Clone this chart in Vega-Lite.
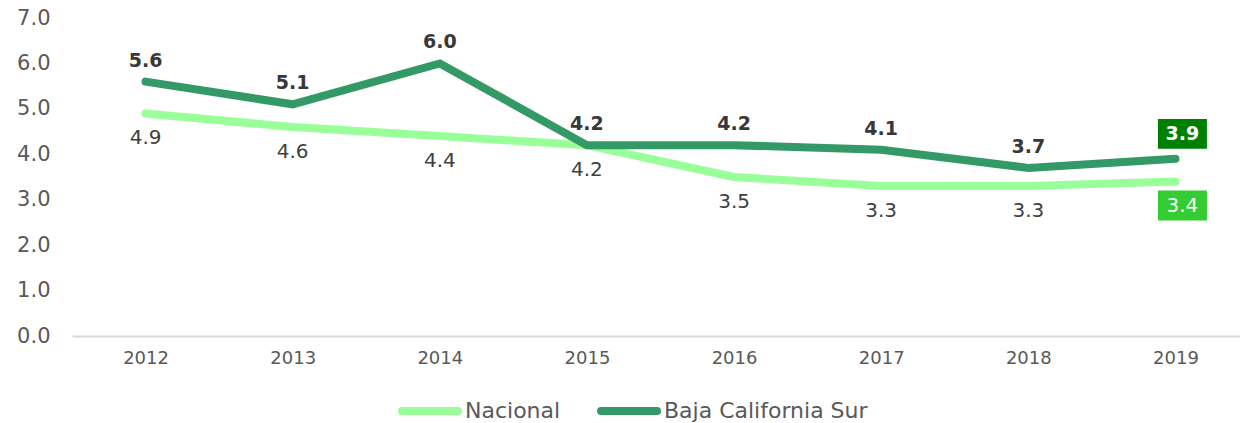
{
  "$schema": "https://vega.github.io/schema/vega-lite/v6.json",
  "width": 1177,
  "height": 318,
  "autosize": {"type": "none"},
  "padding": {"left": 72, "top": 18, "right": 0, "bottom": 87},
  "background": "white",
  "config": {
    "view": {"stroke": null},
    "font": "DejaVu Sans"
  },
  "data": {
    "values": [
      {"year": "2012", "series": "Nacional", "value": 4.9},
      {"year": "2013", "series": "Nacional", "value": 4.6},
      {"year": "2014", "series": "Nacional", "value": 4.4},
      {"year": "2015", "series": "Nacional", "value": 4.2},
      {"year": "2016", "series": "Nacional", "value": 3.5},
      {"year": "2017", "series": "Nacional", "value": 3.3},
      {"year": "2018", "series": "Nacional", "value": 3.3},
      {"year": "2019", "series": "Nacional", "value": 3.4},
      {"year": "2012", "series": "Baja California Sur", "value": 5.6},
      {"year": "2013", "series": "Baja California Sur", "value": 5.1},
      {"year": "2014", "series": "Baja California Sur", "value": 6.0},
      {"year": "2015", "series": "Baja California Sur", "value": 4.2},
      {"year": "2016", "series": "Baja California Sur", "value": 4.2},
      {"year": "2017", "series": "Baja California Sur", "value": 4.1},
      {"year": "2018", "series": "Baja California Sur", "value": 3.7},
      {"year": "2019", "series": "Baja California Sur", "value": 3.9}
    ]
  },
  "encoding": {
    "x": {
      "field": "year", "type": "ordinal",
      "scale": {"type": "point", "padding": 0.5},
      "axis": {
        "title": null, "labelAngle": 0, "labelFontSize": 18, "labelColor": "#595959",
        "domainColor": "#d9d9d9", "domainWidth": 2, "ticks": false, "labelPadding": 13, "grid": false
      }
    },
    "y": {
      "field": "value", "type": "quantitative",
      "scale": {"domain": [0, 7], "nice": false},
      "axis": {
        "title": null, "values": [0, 1, 2, 3, 4, 5, 6, 7], "format": ".1f",
        "labelFontSize": 21, "labelColor": "#595959", "domain": false, "ticks": false,
        "grid": false, "labelPadding": 22
      }
    }
  },
  "layer": [
    {
      "transform": [{"filter": "datum.series === 'Nacional'"}],
      "mark": {"type": "line", "strokeWidth": 8, "strokeCap": "round", "strokeJoin": "round"},
      "encoding": {
        "color": {
          "field": "series", "type": "nominal",
          "scale": {"domain": ["Nacional", "Baja California Sur"], "range": ["#99FF99", "#339966"]},
          "legend": {
            "orient": "none", "legendX": 326, "legendY": 361, "direction": "horizontal", "title": null,
            "symbolType": "stroke", "symbolSize": 3136, "symbolStrokeWidth": 8,
            "labelFontSize": 22, "labelColor": "#595959", "labelOffset": 3, "labelLimit": 0,
            "columnPadding": 24,
            "encode": {"symbols": {"update": {"strokeCap": {"value": "round"}}}}
          }
        }
      }
    },
    {
      "transform": [{"filter": "datum.series === 'Baja California Sur'"}],
      "mark": {"type": "line", "strokeWidth": 8, "strokeCap": "round", "strokeJoin": "miter"},
      "encoding": {
        "color": {"field": "series", "type": "nominal"}
      }
    },
    {
      "transform": [{"filter": "datum.series === 'Baja California Sur' && datum.year !== '2019'"}],
      "mark": {"type": "text", "dy": -21, "fontSize": 19, "fontWeight": "bold", "color": "#383838"},
      "encoding": {"text": {"field": "value", "type": "quantitative", "format": ".1f"}}
    },
    {
      "transform": [{"filter": "datum.series === 'Nacional' && datum.year !== '2019'"}],
      "mark": {"type": "text", "dy": 25, "fontSize": 20, "color": "#404040"},
      "encoding": {"text": {"field": "value", "type": "quantitative", "format": ".1f"}}
    },
    {
      "transform": [{"filter": "datum.series === 'Baja California Sur' && datum.year === '2019'"}],
      "mark": {"type": "point", "shape": "M-1,-0.61L1,-0.61L1,0.61L-1,0.61Z", "size": 2401, "filled": true, "opacity": 1, "fill": "#008000", "strokeWidth": 0, "xOffset": 7, "yOffset": -25}
    },
    {
      "transform": [{"filter": "datum.series === 'Nacional' && datum.year === '2019'"}],
      "mark": {"type": "point", "shape": "M-1,-0.61L1,-0.61L1,0.61L-1,0.61Z", "size": 2401, "filled": true, "opacity": 1, "fill": "#33CC33", "strokeWidth": 0, "xOffset": 7, "yOffset": 24}
    },
    {
      "transform": [{"filter": "datum.series === 'Baja California Sur' && datum.year === '2019'"}],
      "mark": {"type": "text", "dx": 7, "dy": -25, "fontSize": 19, "fontWeight": "bold", "color": "white"},
      "encoding": {"text": {"field": "value", "type": "quantitative", "format": ".1f"}}
    },
    {
      "transform": [{"filter": "datum.series === 'Nacional' && datum.year === '2019'"}],
      "mark": {"type": "text", "dx": 7, "dy": 24, "fontSize": 20, "color": "white"},
      "encoding": {"text": {"field": "value", "type": "quantitative", "format": ".1f"}}
    }
  ]
}
